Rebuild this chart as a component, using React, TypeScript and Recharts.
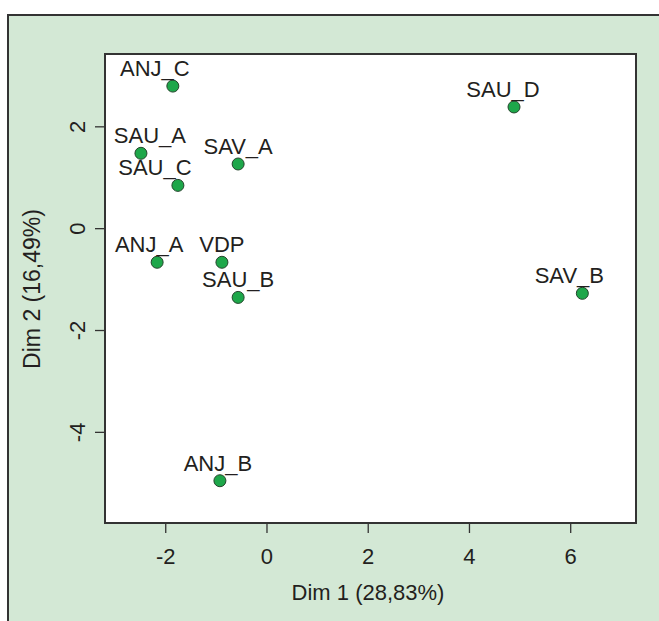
import { ScatterChart, Scatter, XAxis, YAxis, ReferenceArea } from 'recharts';

const labels = ['ANJ_A', 'ANJ_B', 'ANJ_C', 'SAU_A', 'SAU_B', 'SAU_C', 'SAU_D', 'SAV_A', 'SAV_B', 'VDP'];
const dim1 = [-2.17, -0.93, -1.86, -2.49, -0.57, -1.76, 4.88, -0.57, 6.23, -0.89];
const dim2 = [-0.66, -4.95, 2.8, 1.48, -1.35, 0.85, 2.39, 1.27, -1.27, -0.66];
const xTicks = [-2, 0, 2, 4, 6];
const yTicks = [-4, -2, 0, 2];

// label nudges (px), the original uses a repel layout
const LABEL_DX: Record<string, number> = {
  ANJ_A: -8, ANJ_B: -2, ANJ_C: -18, SAU_A: 9, SAU_B: 0,
  SAU_C: -23, SAU_D: -11, SAV_A: 0, SAV_B: -13, VDP: 0,
};

const FONT = 'Helvetica, Arial, "Liberation Sans", sans-serif';
const TEXT = '#231f20';
const FS = 22;

const data = labels.map((name, i) => ({ name, x: dim1[i], y: dim2[i] }));

function Point(props: any) {
  const { cx, cy, payload } = props;
  const dx = LABEL_DX[payload.name] || 0;
  return (
    <g>
      <circle cx={cx} cy={cy} r={6} fill="#1ea74a" stroke="#24452c" strokeWidth={1} />
      <text x={cx + dx} y={cy - 10} textAnchor="middle" fontFamily={FONT} fontSize={FS} fill={TEXT}>
        {payload.name}
      </text>
    </g>
  );
}

function XTick(props: any) {
  const { x, payload } = props;
  return (
    <text x={x} y={564} textAnchor="middle" fontFamily={FONT} fontSize={FS} fill={TEXT}>
      {payload.value}
    </text>
  );
}

function YTick(props: any) {
  const { y, payload } = props;
  return (
    <text
      transform={`translate(85,${y}) rotate(-90)`}
      textAnchor="middle"
      fontFamily={FONT}
      fontSize={FS}
      fill={TEXT}
    >
      {payload.value}
    </text>
  );
}

export default function App() {
  return (
    <div style={{ position: 'absolute', left: 0, top: 0, width: 659, height: 621, background: '#fff', overflow: 'hidden' }}>
      <div
        style={{
          position: 'absolute',
          left: 7,
          top: 14,
          width: 652,
          height: 607,
          boxSizing: 'border-box',
          background: '#d3e8d5',
          borderTop: '2px solid #333',
          borderLeft: '2px solid #333',
        }}
      />
      <div style={{ position: 'absolute', left: 0, top: 0 }}>
        <ScatterChart width={659} height={621} margin={{ top: 54, right: 23, bottom: 8, left: 5 }}>
          <XAxis
            type="number"
            dataKey="x"
            domain={[-3.2, 7.29]}
            ticks={xTicks}
            allowDataOverflow
            axisLine={false}
            tickSize={10}
            tickLine={{ stroke: '#333', strokeWidth: 1.3 }}
            tick={<XTick />}
            height={90}
          />
          <YAxis
            type="number"
            dataKey="y"
            domain={[-5.78, 3.43]}
            ticks={yTicks}
            allowDataOverflow
            axisLine={false}
            tickSize={10}
            tickLine={{ stroke: '#333', strokeWidth: 1.3 }}
            tick={<YTick />}
            width={100}
          />
          <ReferenceArea x1={-3.2} x2={7.29} y1={-5.78} y2={3.43} fill="#fff" fillOpacity={1} stroke="#333" strokeWidth={2} />
          <Scatter data={data} shape={<Point />} isAnimationActive={false} />
          <text x={368} y={600} textAnchor="middle" fontFamily={FONT} fontSize={FS} fill={TEXT}>
            Dim 1 (28,83%)
          </text>
          <text
            transform="translate(40,289) rotate(-90)"
            textAnchor="middle"
            fontFamily={FONT}
            fontSize={23}
            fill={TEXT}
          >
            Dim 2 (16,49%)
          </text>
        </ScatterChart>
      </div>
    </div>
  );
}
